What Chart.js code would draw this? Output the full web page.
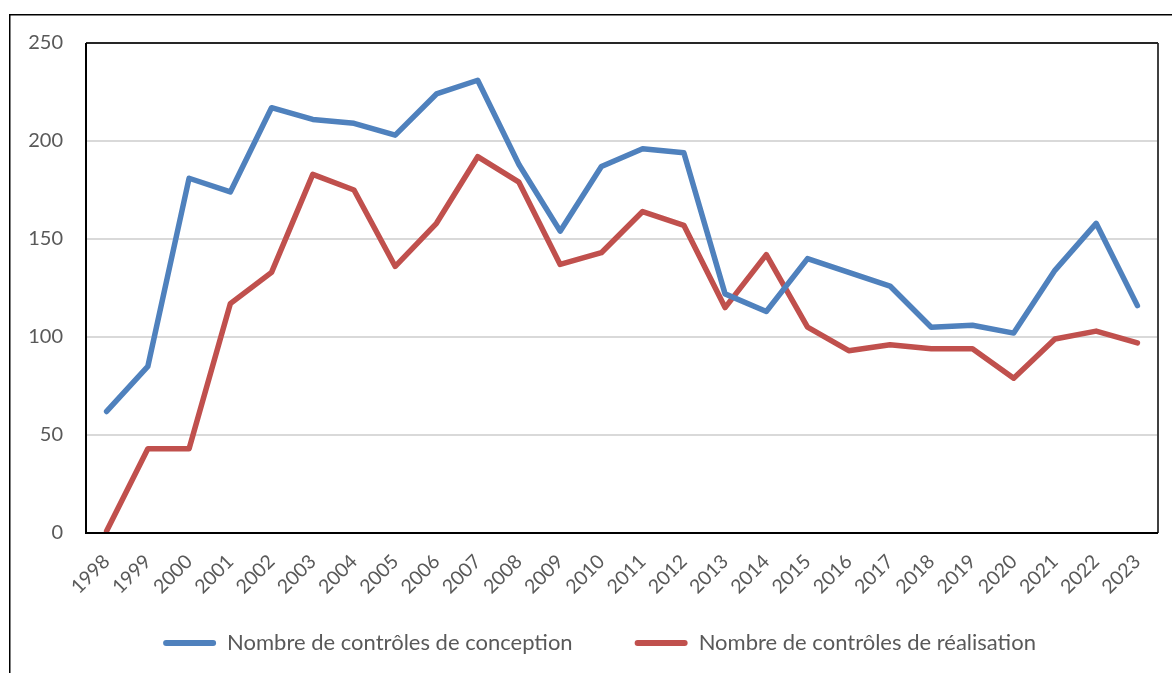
<!DOCTYPE html>
<html>
<head>
<meta charset="utf-8">
<script src="https://cdn.jsdelivr.net/npm/chart.js@4.4.1/dist/chart.umd.min.js"></script>
<style>
html,body{margin:0;padding:0;background:#fff;}
#wrap{position:relative;width:1172px;height:673px;}
canvas{display:block;}
</style>
</head>
<body>
<div id="wrap"><canvas id="c" width="1172" height="673"></canvas></div>
<script>
const years = ["1998","1999","2000","2001","2002","2003","2004","2005","2006","2007","2008","2009","2010","2011","2012","2013","2014","2015","2016","2017","2018","2019","2020","2021","2022","2023"];
const conception = [62,85,181,174,217,211,209,203,224,231,188,154,187,196,194,122,113,140,133,126,105,106,102,134,158,116];
const realisation = [1,43,43,117,133,183,175,136,158,192,179,137,143,164,157,115,142,105,93,96,94,94,79,99,103,97];
const seriesNames = ["Nombre de contrôles de conception","Nombre de contrôles de réalisation"];
const yTicks = [0,50,100,150,200,250];

const FONT = "Lato, 'Open Sans', sans-serif";
const LEGEND_PAD = 62;
const LEGEND_FONT = 22;

const framePlugin = {
  id: 'frame',
  afterInit(chart){
    const lg = chart.legend;
    if (lg) {
      const orig = lg.fit;
      lg.fit = function(){ orig.call(this); this._fullHeight = this.height; this.height = 40; };
    }
  },
  afterLayout(chart){
    const lg = chart.legend;
    if (lg) {
      lg.top = 643 - LEGEND_PAD - LEGEND_FONT/2;
      lg.height = lg._fullHeight || 100;
      lg.bottom = lg.top + lg.height;
      lg.left = 41;
    }
  },
  beforeDraw(chart){
    const ctx = chart.ctx;
    ctx.save();
    ctx.fillStyle = '#fff';
    ctx.fillRect(0,0,chart.width,chart.height);
    ctx.strokeStyle = '#000';
    ctx.lineWidth = 1.5;
    ctx.beginPath();
    ctx.moveTo(9.75, chart.height);
    ctx.lineTo(9.75, 14.75);
    ctx.lineTo(chart.width, 14.75);
    ctx.stroke();
    ctx.restore();
  },
  afterDatasetsDraw(chart){
    const a = chart.chartArea, ctx = chart.ctx;
    ctx.save();
    ctx.lineWidth = 2;
    ctx.strokeStyle = '#404040';
    ctx.beginPath();
    ctx.moveTo(a.right, a.top); ctx.lineTo(a.right, a.bottom); ctx.stroke();
    ctx.strokeStyle = '#262626';
    ctx.beginPath();
    ctx.moveTo(a.left, a.top); ctx.lineTo(a.right, a.top); ctx.stroke();
    ctx.strokeStyle = '#000';
    ctx.beginPath();
    ctx.moveTo(a.left, a.top); ctx.lineTo(a.left, a.bottom); ctx.lineTo(a.right, a.bottom); ctx.stroke();
    ctx.restore();
  }
};

new Chart(document.getElementById('c'), {
  type: 'line',
  data: {
    labels: years,
    datasets: [
      {label: seriesNames[0], data: conception, borderColor: '#4F81BD', backgroundColor: '#4F81BD', borderWidth: 5.5, pointRadius: 0, tension: 0, borderCapStyle: 'round', borderJoinStyle: 'round'},
      {label: seriesNames[1], data: realisation, borderColor: '#C0504D', backgroundColor: '#C0504D', borderWidth: 5.5, pointRadius: 0, tension: 0, borderCapStyle: 'round', borderJoinStyle: 'round'}
    ]
  },
  options: {
    responsive: false,
    animation: false,
    devicePixelRatio: 1,
    layout: {padding: {left: 0, right: 14, top: 43, bottom: 0}},
    plugins: {
      legend: {
        position: 'bottom',
        labels: {
          color: '#595959',
          font: {family: FONT, size: LEGEND_FONT},
          boxWidth: 53,
          boxHeight: 6,
          useBorderRadius: true,
          borderRadius: 3,
          padding: LEGEND_PAD,
          generateLabels(chart){
            return chart.data.datasets.map((d,i)=>({text: d.label, fillStyle: d.borderColor, strokeStyle: d.borderColor, lineWidth: 0, datasetIndex: i, fontColor: '#595959', borderRadius: 3}));
          }
        }
      },
      tooltip: {enabled: false}
    },
    scales: {
      x: {
        offset: true,
        grid: {display: false, drawTicks: false},
        border: {display: false},
        ticks: {color: '#595959', font: {family: FONT, size: 19.5}, minRotation: 45, maxRotation: 45, padding: 17, autoSkip: false},
        afterFit(s){ s.height = 100; }
      },
      y: {
        min: 0, max: 250,
        afterBuildTicks(s){ s.ticks = yTicks.map(v=>({value:v})); },
        grid: {color: '#d9d9d9', lineWidth: 2, drawTicks: false},
        border: {display: false},
        ticks: {color: '#595959', font: {family: FONT, size: 20}, padding: 23},
        afterFit(s){ s.width = 86; }
      }
    }
  },
  plugins: [framePlugin]
});
</script>
</body>
</html>
